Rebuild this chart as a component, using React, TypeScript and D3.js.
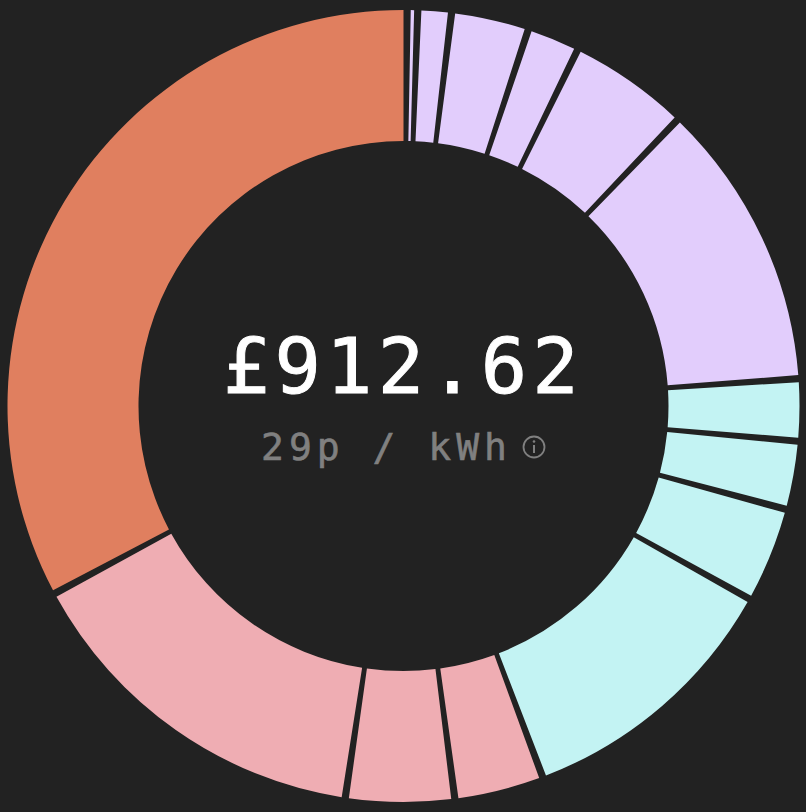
import React, { useEffect } from "react";
import * as d3 from "d3";

const categories = ["a1","a2","a3","a4","a5","a6","b1","b2","b3","b4","c1","c2","c3","d1"];
const groups = ["lavender","lavender","lavender","lavender","lavender","lavender","cyan","cyan","cyan","cyan","pink","pink","pink","orange"];
// Cost per slice (£)
const values = [1.3, 10.2, 27.3, 17.6, 44.0, 109.1, 21.2, 23.7, 34.3, 103.8, 31.9, 39.3, 138.1, 311.4];
const totalLabel = "£912.62";
const rateLabel = "29p / kWh";
const colors: Record<string, string> = { lavender: "#E2CDFC", cyan: "#C3F3F3", pink: "#EFADB3", orange: "#E07F5F" };

const W = 806, H = 812, CX = 403.5, CY = 406, R1 = 396, R0 = 265;
const GAP = (1.05 * Math.PI) / 180;

export default function App() {
  useEffect(() => {
    document.body.style.margin = "0";
    document.body.style.background = "#222222";
  }, []);
  const pie = d3.pie<number>().sort(null).padAngle(GAP).startAngle(GAP).endAngle(GAP + 2 * Math.PI);
  const arcs = pie(values);
  const arc = d3.arc<d3.PieArcDatum<number>>().innerRadius(R0).outerRadius(R1).padAngle(0);
  return (
    <svg width={W} height={H} style={{ display: "block", position: "fixed", left: 0, top: 0, background: "#222222" }}>
      <g transform={`translate(${CX},${CY})`}>
        {arcs.map((a, i) => (
          <path key={categories[i]} d={arc({ ...a, endAngle: a.endAngle - GAP }) ?? ""} fill={colors[groups[i]]} />
        ))}
      </g>
      <text x={223} y={393} fill="#ffffff" stroke="#ffffff" strokeWidth={1} fontFamily="'DejaVu Sans Mono'" fontSize={77} letterSpacing={5.2}>{totalLabel}</text>
      <text x={261} y={460} fill="#808080" stroke="#808080" strokeWidth={0.6} fontFamily="'DejaVu Sans Mono'" fontSize={38} letterSpacing={5}>{rateLabel}</text>
      <circle cx={534} cy={447} r={10.5} fill="none" stroke="#808080" strokeWidth={1.8} />
      <circle cx={534} cy={441.5} r={1.3} fill="#808080" />
      <line x1={534} x2={534} y1={445} y2={453} stroke="#808080" strokeWidth={2} />
    </svg>
  );
}
